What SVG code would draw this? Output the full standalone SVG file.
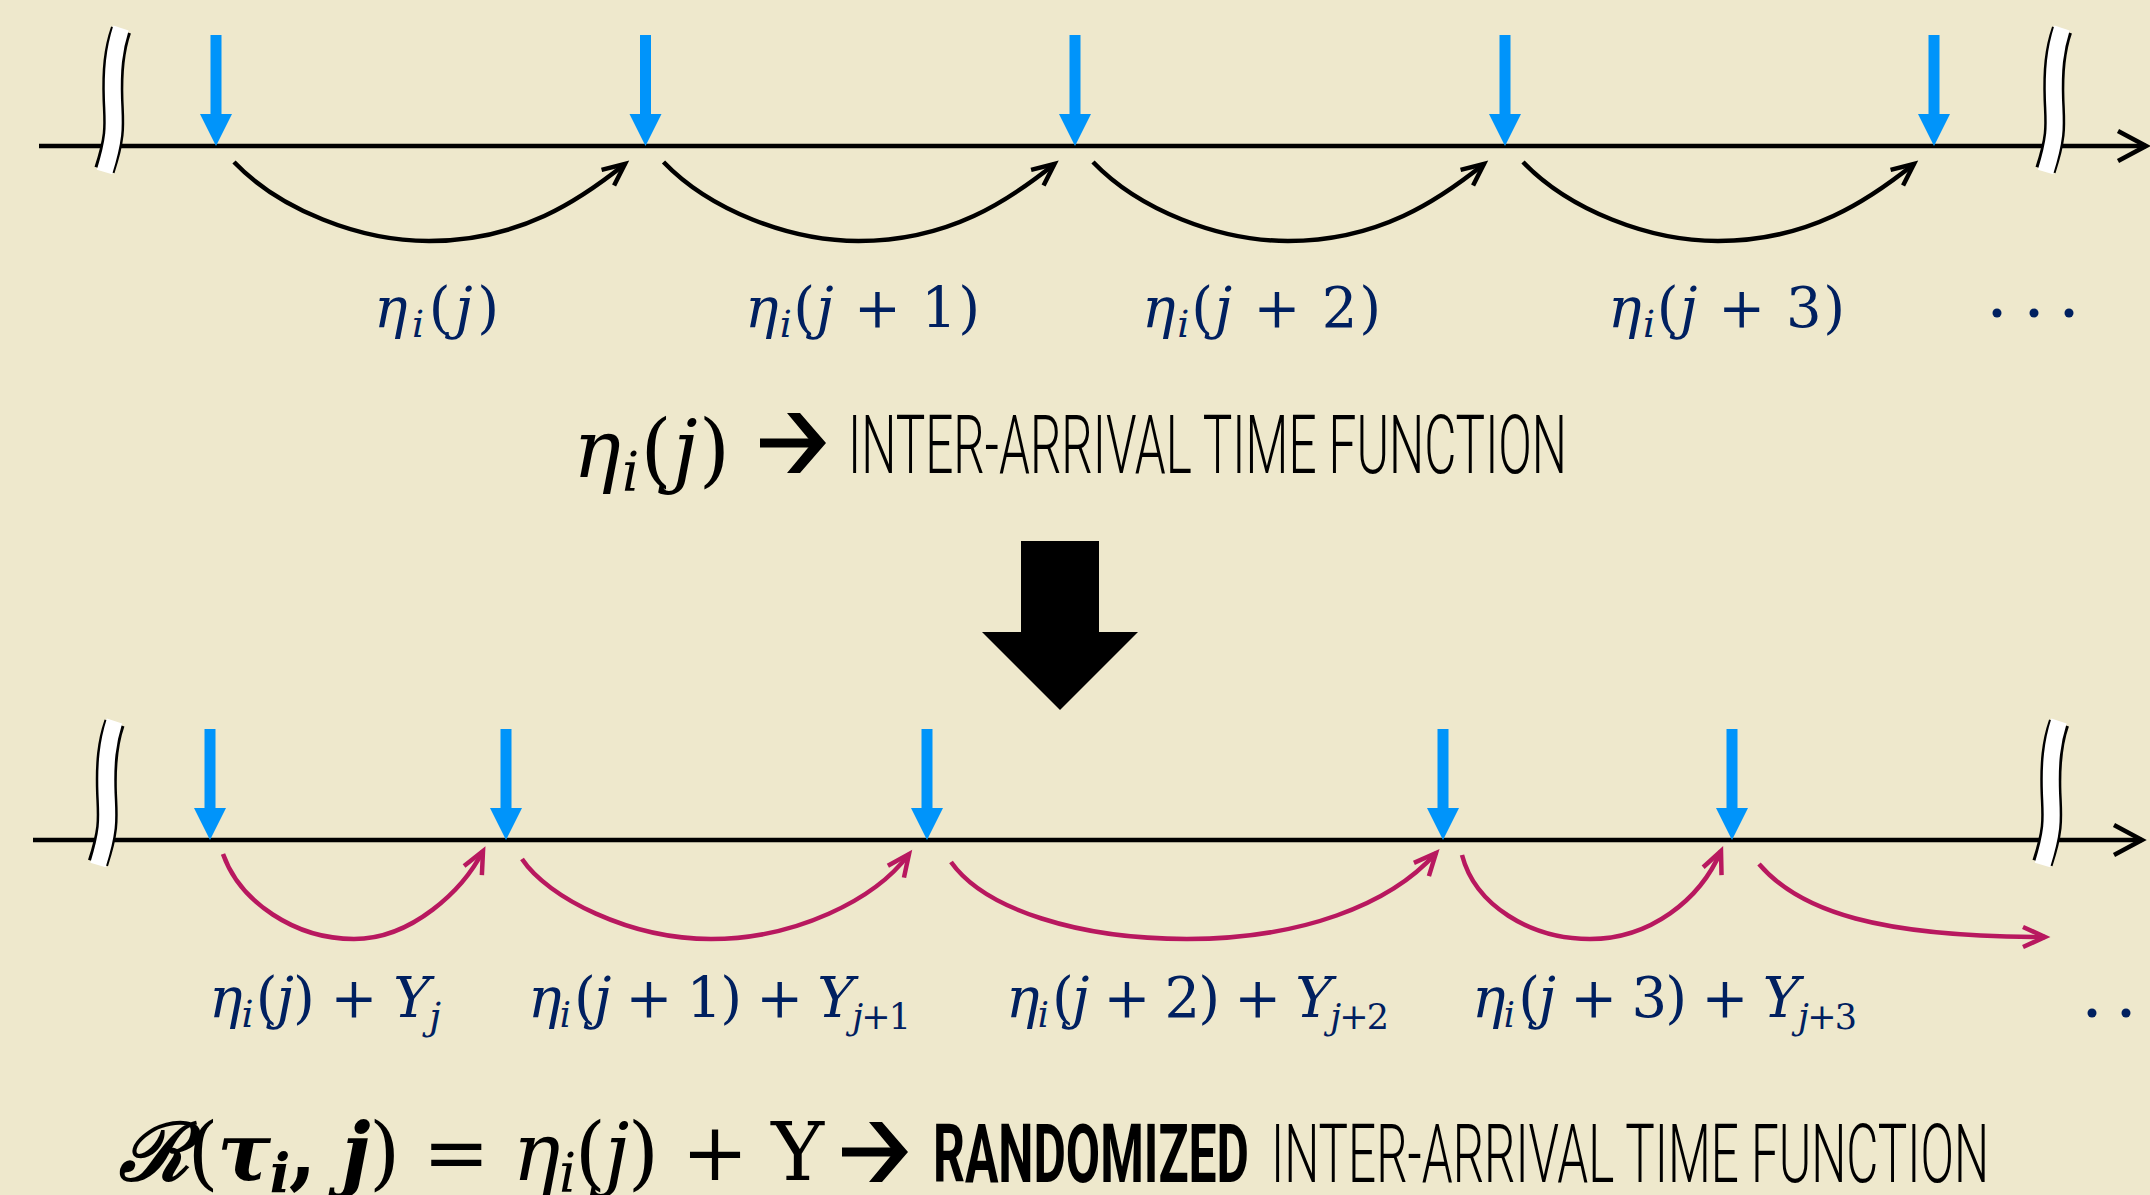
<svg xmlns="http://www.w3.org/2000/svg" xmlns:xlink="http://www.w3.org/1999/xlink" width="2150" height="1195" viewBox="0 0 2150 1195">
<style>
.m{font-family:"DejaVu Serif","Liberation Serif",serif;font-size:56px;fill:#002060}
.big{font-size:80px;fill:#000}
.it{font-style:italic}
.bi{font-style:italic;font-weight:bold}
.b{font-weight:bold}
.sub{font-size:38px}
.sub2{font-size:35px}
.bsub{font-size:54px}
.cap{font-family:Roboto,"Liberation Sans",Arial,sans-serif;font-weight:300;font-size:81px;fill:#000}
.capb{font-family:Roboto,"Liberation Sans",Arial,sans-serif;font-weight:bold;font-size:81px;fill:#000}
.axis{stroke:#000;stroke-width:4.5;fill:none}
.arcK{stroke:#000;stroke-width:4.5;fill:none}
.arcM{stroke:#B8185F;stroke-width:4.5;fill:none}
.dot{fill:#002060}
</style>
<defs>
<marker id="hk" markerUnits="userSpaceOnUse" viewBox="-30 -15 34 30" refX="0" refY="0" markerWidth="34" markerHeight="30" orient="auto" overflow="visible"><path d="M-22,-10 L0,0 L-22,10" fill="none" stroke="#000" stroke-width="4.5"/></marker>
<marker id="hm" markerUnits="userSpaceOnUse" viewBox="-30 -15 34 30" refX="0" refY="0" markerWidth="34" markerHeight="30" orient="auto" overflow="visible"><path d="M-22,-10 L0,0 L-22,10" fill="none" stroke="#B8185F" stroke-width="4.5"/></marker>
<marker id="ha" markerUnits="userSpaceOnUse" viewBox="-35 -20 40 40" refX="0" refY="0" markerWidth="40" markerHeight="40" orient="auto" overflow="visible"><path d="M-28,-15 L0,0 L-28,15" fill="none" stroke="#000" stroke-width="4.5"/></marker>
<g id="brk">
<path d="M0,0 C -7,20 -9,40 -8,70 C -7,95 -5,105 -16.5,140" fill="none" stroke="#000" stroke-width="21"/>
<path d="M0,-2 C -7,20 -9,40 -8,70 C -7,95 -5,105 -16.5,142" fill="none" stroke="#fff" stroke-width="16"/>
</g>
<g id="blue">
<rect x="-5.5" y="-111" width="11" height="80" fill="#0094FA"/>
<polygon points="-16,-32 16,-32 0,0" fill="#0094FA"/>
</g>
<g id="bolda">
<rect x="0" y="-4.5" width="52" height="9" fill="#000"/>
<polygon points="27,-30 40,-30 66,0 40,30 27,30 52,0" fill="#000"/>
</g>
</defs>
<rect width="2150" height="1195" fill="#EEE8CC"/>

<g id="timeline-top">
<line class="axis" x1="39" y1="146" x2="2146" y2="146" marker-end="url(#ha)"/>
<use xlink:href="#brk" transform="translate(121,30)"/>
<use xlink:href="#brk" transform="translate(2062,30)"/>
</g>
<g id="arrivals-top">
<use xlink:href="#blue" transform="translate(216,146)"/>
<use xlink:href="#blue" transform="translate(645.5,146)"/>
<use xlink:href="#blue" transform="translate(1075,146)"/>
<use xlink:href="#blue" transform="translate(1505,146)"/>
<use xlink:href="#blue" transform="translate(1934,146)"/>
</g>

<g id="connectors">
<g id="arcs-top">
<path class="arcK" d="M234,162 C 280,210 360,241 429,241 C 520,241 580,200 625,164" marker-end="url(#hk)"/>
<path class="arcK" d="M234,162 C 280,210 360,241 429,241 C 520,241 580,200 625,164" marker-end="url(#hk)" transform="translate(429.5,0)"/>
<path class="arcK" d="M234,162 C 280,210 360,241 429,241 C 520,241 580,200 625,164" marker-end="url(#hk)" transform="translate(859,0)"/>
<path class="arcK" d="M234,162 C 280,210 360,241 429,241 C 520,241 580,200 625,164" marker-end="url(#hk)" transform="translate(1289,0)"/>
</g>
<g id="arcs-bottom">
<path class="arcM" d="M223,854 C 240,902 295,939 354,939 C 412,939 463,890 483,851" marker-end="url(#hm)"/>
<path class="arcM" d="M522,859 C 548,898 630,939 711,939 C 795,939 875,900 909,854" marker-end="url(#hm)"/>
<path class="arcM" d="M951,862 C 985,910 1080,939 1187,939 C 1300,939 1390,905 1436,853" marker-end="url(#hm)"/>
<path class="arcM" d="M1462,855 C 1475,905 1530,939 1590,939 C 1650,939 1700,900 1721,851" marker-end="url(#hm)"/>
<path class="arcM" d="M1759,864 C 1800,912 1880,937 2045,937" marker-end="url(#hm)"/>
</g>
</g>

<g id="labels-top">
<text class="m" x="374" y="327" textLength="125"><tspan class="it">η</tspan><tspan class="it sub" dy="10">i</tspan><tspan dy="-10">(</tspan><tspan class="it">j</tspan>)</text>
<text class="m" x="745" y="327" textLength="235"><tspan class="it">η</tspan><tspan class="it sub" dy="10">i</tspan><tspan dy="-10">(</tspan><tspan class="it">j</tspan> + 1)</text>
<text class="m" x="1142" y="327" textLength="239"><tspan class="it">η</tspan><tspan class="it sub" dy="10">i</tspan><tspan dy="-10">(</tspan><tspan class="it">j</tspan> + 2)</text>
<text class="m" x="1608" y="327" textLength="237"><tspan class="it">η</tspan><tspan class="it sub" dy="10">i</tspan><tspan dy="-10">(</tspan><tspan class="it">j</tspan> + 3)</text>
<circle class="dot" cx="1997" cy="313" r="4.5"/>
<circle class="dot" cx="2034" cy="313" r="4.5"/>
<circle class="dot" cx="2069" cy="313" r="4.5"/>
</g>

<g id="caption-top">
<text class="m big" x="573" y="477" textLength="157"><tspan class="it">η</tspan><tspan class="it bsub" dy="14">i</tspan><tspan dy="-14">(</tspan><tspan class="it">j</tspan>)</text>
<use xlink:href="#bolda" transform="translate(760,443)"/>
<text class="cap" x="848" y="473" textLength="719" lengthAdjust="spacingAndGlyphs">INTER-ARRIVAL TIME FUNCTION</text>
</g>

<g id="big-arrow">
<polygon points="1021,541 1099,541 1099,632 1138,632 1060,710 982,632 1021,632" fill="#000"/>
</g>

<g id="timeline-bottom">
<line class="axis" x1="33" y1="840" x2="2142" y2="840" marker-end="url(#ha)"/>
<use xlink:href="#brk" transform="translate(114.5,723)"/>
<use xlink:href="#brk" transform="translate(2059,723)"/>
</g>
<g id="arrivals-bottom">
<use xlink:href="#blue" transform="translate(210,840)"/>
<use xlink:href="#blue" transform="translate(506,840)"/>
<use xlink:href="#blue" transform="translate(927,840)"/>
<use xlink:href="#blue" transform="translate(1443,840)"/>
<use xlink:href="#blue" transform="translate(1732,840)"/>
</g>

<g id="labels-bottom">
<text class="m" x="209" y="1017" textLength="232"><tspan class="it">η</tspan><tspan class="it sub" dy="10">i</tspan><tspan dy="-10" dx="3">(</tspan><tspan class="it">j</tspan>) + <tspan class="it">Y</tspan><tspan class="it sub" dy="12">j</tspan></text>
<text class="m" x="528" y="1017" textLength="383"><tspan class="it">η</tspan><tspan class="it sub2" dy="10">i</tspan><tspan dy="-10" dx="5">(</tspan><tspan class="it">j</tspan> + 1) + <tspan class="it">Y</tspan><tspan class="sub2" dy="12"><tspan class="it">j</tspan>+1</tspan></text>
<text class="m" x="1006" y="1017" textLength="383"><tspan class="it">η</tspan><tspan class="it sub2" dy="10">i</tspan><tspan dy="-10" dx="5">(</tspan><tspan class="it">j</tspan> + 2) + <tspan class="it">Y</tspan><tspan class="sub2" dy="12"><tspan class="it">j</tspan>+2</tspan></text>
<text class="m" x="1472" y="1017" textLength="385"><tspan class="it">η</tspan><tspan class="it sub2" dy="10">i</tspan><tspan dy="-10" dx="5">(</tspan><tspan class="it">j</tspan> + 3) + <tspan class="it">Y</tspan><tspan class="sub2" dy="12"><tspan class="it">j</tspan>+3</tspan></text>
<circle class="dot" cx="2092" cy="1013" r="4.5"/>
<circle class="dot" cx="2126" cy="1013" r="4.5"/>
</g>

<g id="caption-bottom">
<text class="m big" x="119" y="1180" textLength="705"><tspan class="bi">ℛ</tspan>(<tspan class="bi">τ</tspan><tspan class="bi bsub" dy="12">i</tspan><tspan class="b" dy="-12">, </tspan><tspan class="bi">j</tspan>) = <tspan class="it">η</tspan><tspan class="it bsub" dy="12">i</tspan><tspan dy="-12">(</tspan><tspan class="it">j</tspan>) + Y</text>
<use xlink:href="#bolda" transform="translate(842,1152)"/>
<text class="capb" x="933" y="1182" textLength="316" lengthAdjust="spacingAndGlyphs">RANDOMIZED</text>
<text class="cap" x="1271" y="1182" textLength="718" lengthAdjust="spacingAndGlyphs">INTER-ARRIVAL TIME FUNCTION</text>
</g>
</svg>
